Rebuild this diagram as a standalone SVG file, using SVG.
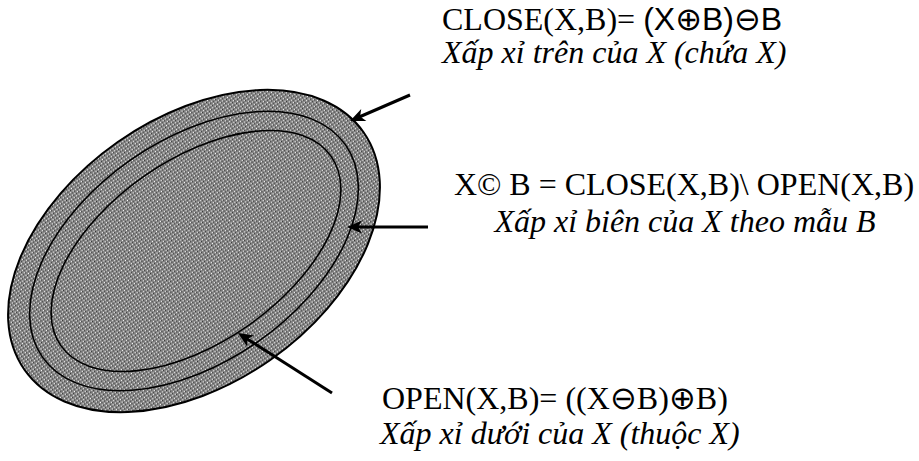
<svg xmlns="http://www.w3.org/2000/svg" width="919" height="461" viewBox="0 0 919 461">
<style>
.serif{font-family:"Liberation Serif","Times New Roman",serif;font-size:32px;fill:#000}
.it{font-style:italic}
.sans{font-family:"Liberation Sans",Arial,"DejaVu Sans",sans-serif}
.ring{fill:none;stroke:#000;stroke-width:1.6}
.arrow{stroke:#000;stroke-width:3;fill:none;marker-end:url(#head)}
</style>
<defs>
<pattern id="dots" width="3" height="3" patternUnits="userSpaceOnUse">
<rect width="3" height="3" fill="#858585"/>
<rect x="0" y="0" width="1" height="1" fill="#ffffff"/>
<rect x="1" y="1" width="1" height="1" fill="#333333"/>
</pattern>
<marker id="head" markerUnits="userSpaceOnUse" viewBox="-6 -8 18 16" refX="0" refY="0" markerWidth="18" markerHeight="16" orient="auto" overflow="visible">
<path d="M10,0 L-5,-6.5 L-1,0 L-5,6.5 Z" fill="#000"/>
</marker>
</defs>
<g id="region-X">
<ellipse cx="194" cy="251" rx="207" ry="133" transform="rotate(-35 194 251)" fill="url(#dots)" stroke="#000" stroke-width="2"/>
<ellipse class="ring" cx="194" cy="251" rx="185" ry="111" transform="rotate(-35 194 251)"/>
<ellipse class="ring" cx="196" cy="251" rx="165" ry="91" transform="rotate(-35 196 251)"/>
</g>
<g id="connectors">
<line class="arrow" x1="410" y1="95" x2="359.2" y2="117"/>
<line class="arrow" x1="428" y1="227" x2="357" y2="227"/>
<line class="arrow" x1="332" y1="393" x2="246.4" y2="338.4"/>
</g>
<g id="label-close">
<text class="serif" x="442" y="30">CLOSE(X,B)= <tspan class="sans">(X⊕B)⊖B</tspan></text>
<text class="serif it" x="442" y="63">Xấp xỉ trên của X (chứa X)</text>
</g>
<g id="label-boundary">
<text class="serif" x="684" y="195" text-anchor="middle">X© B = CLOSE(X,B)\ OPEN(X,B)</text>
<text class="serif it" x="685" y="232" text-anchor="middle">Xấp xỉ biên của X theo mẫu B</text>
</g>
<g id="label-open">
<text class="serif" x="382" y="409">OPEN(X,B)= ((X⊖B)⊕B)</text>
<text class="serif it" x="380" y="444">Xấp xỉ dưới của X (thuộc X)</text>
</g>
</svg>
